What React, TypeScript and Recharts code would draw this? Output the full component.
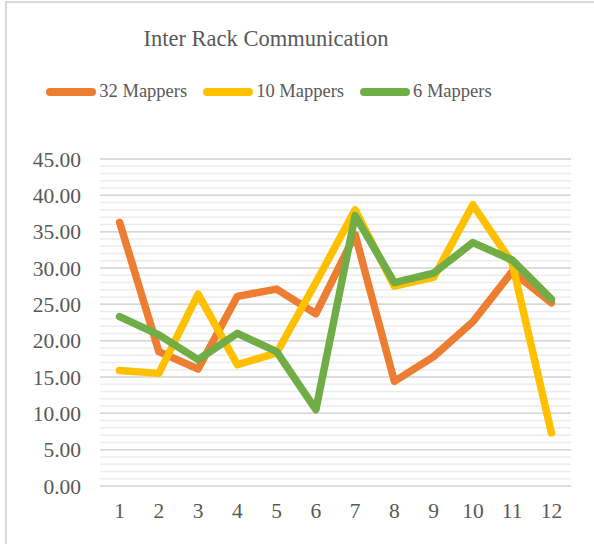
import React from 'react';
import { LineChart, Line, XAxis, YAxis, CartesianGrid, Legend } from 'recharts';

// categories on the x axis
const categories = ['1', '2', '3', '4', '5', '6', '7', '8', '9', '10', '11', '12'];

// series values
const mappers32 = [36.3, 18.5, 16.1, 26.1, 27.1, 23.7, 34.6, 14.4, 17.8, 22.6, 29.5, 25.2];
const mappers10 = [15.9, 15.5, 26.4, 16.7, 18.3, 28.0, 38.0, 27.5, 28.7, 38.7, 30.7, 7.3];
const mappers6 = [23.3, 20.8, 17.4, 21.0, 18.5, 10.5, 37.2, 28.0, 29.3, 33.5, 31.1, 25.7];

const yTicks = [0, 5, 10, 15, 20, 25, 30, 35, 40, 45];
const minorTicks = Array.from({ length: 46 }, (_, i) => i);

const series = [
  { key: 'm32', name: '32 Mappers', color: '#ED7D31' },
  { key: 'm10', name: '10 Mappers', color: '#FFC000' },
  { key: 'm6', name: '6 Mappers', color: '#70AD47' },
];

const data = categories.map((c, i) => ({
  cat: c,
  m32: mappers32[i],
  m10: mappers10[i],
  m6: mappers6[i],
}));

const FONT = '"Liberation Serif", "Times New Roman", serif';
const TEXT = '#595959';

// keep series order (Recharts would sort the payload by name)
const LegendContent = () => (
  <div style={{ display: 'flex', justifyContent: 'center', alignItems: 'center', fontFamily: FONT, fontSize: 18.5, color: TEXT }}>
    {series.map((s, i) => (
      <div key={s.key} style={{ display: 'flex', alignItems: 'center', marginLeft: i === 0 ? 0 : 16 }}>
        <span style={{ display: 'inline-block', width: 50, height: 8, borderRadius: 4, background: s.color }} />
        <span style={{ marginLeft: 3 }}>{s.name}</span>
      </div>
    ))}
  </div>
);

export default function App() {
  return (
    <div style={{ position: 'absolute', left: 0, top: 0, width: 594, height: 547, overflow: 'hidden', background: '#fff' }}>
      <div style={{ position: 'absolute', left: 5, top: 1, width: 700, height: 541, borderLeft: '2px solid #d9d9d9', borderTop: '2px solid #d9d9d9' }} />
      <svg style={{ position: 'absolute', left: 0, top: 0 }} width={594} height={60}>
        <text x={266} y={46} textAnchor="middle" fontFamily={FONT} fontSize={22.5} fill={TEXT}>
          Inter Rack Communication
        </text>
      </svg>
      <LineChart
        width={594}
        height={547}
        data={data}
        margin={{ top: 159, right: 23, left: 5, bottom: 21 }}
        style={{ position: 'absolute', left: 0, top: 0 }}
      >
        {/* minor gridlines every 1.00 (interval 0 on the axis keeps them all) */}
        <CartesianGrid vertical={false} horizontalValues={minorTicks} stroke="#ececec" strokeWidth={1.5} />
        <CartesianGrid vertical={false} stroke="#d6d6d6" strokeWidth={1.5} />
        <XAxis
          dataKey="cat"
          padding={{ left: 19.6, right: 19.6 }}
          axisLine={false}
          tickLine={false}
          tickSize={0}
          tickMargin={17}
          height={40}
          interval={0}
          tick={{ fontFamily: FONT, fontSize: 21.5, fill: TEXT }}
        />
        <YAxis
          domain={[0, 45]}
          ticks={yTicks}
          interval={0}
          width={95}
          axisLine={false}
          tickLine={false}
          tickSize={0}
          tickMargin={19}
          tickFormatter={(v: number) => v.toFixed(2)}
          tick={{ fontFamily: FONT, fontSize: 21.5, fill: TEXT }}
        />
        <Legend
          layout="horizontal"
          verticalAlign="middle"
          align="center"
          content={<LegendContent />}
          wrapperStyle={{ top: 81, left: 0, width: 538 }}
        />
        {series.map(s => (
          <Line
            key={s.key}
            dataKey={s.key}
            name={s.name}
            stroke={s.color}
            strokeWidth={7.5}
            strokeLinejoin="round"
            strokeLinecap="round"
            dot={false}
            activeDot={false}
            isAnimationActive={false}
          />
        ))}
      </LineChart>
    </div>
  );
}
